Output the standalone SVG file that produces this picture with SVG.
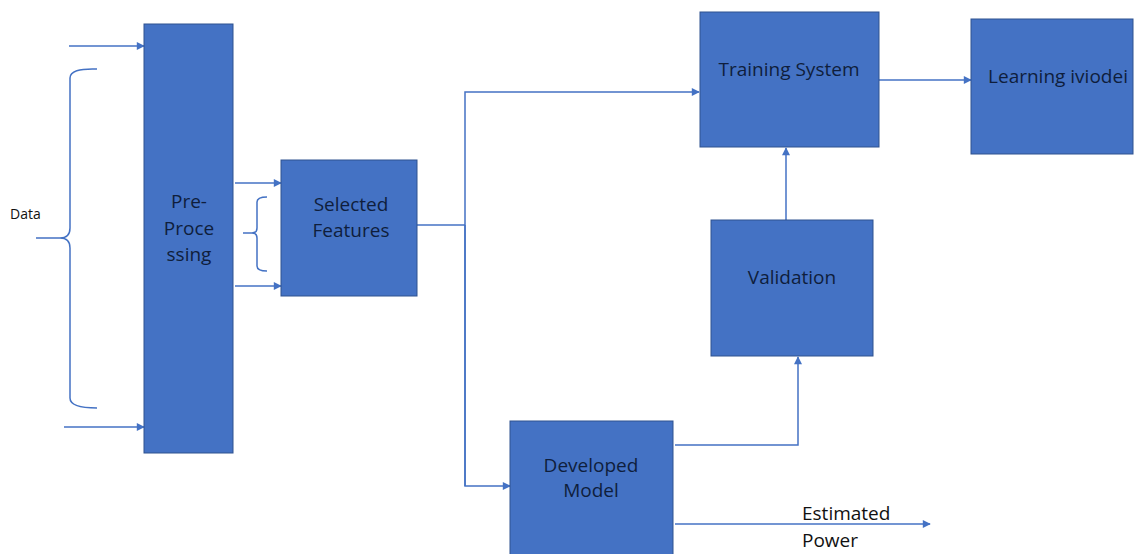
<svg xmlns="http://www.w3.org/2000/svg" width="1138" height="554" viewBox="0 0 1138 554">
<style>
.box{fill:#4472C4;stroke:#2F528F;stroke-width:1}
.lbl{font-family:"Open Sans","Liberation Sans",sans-serif;font-size:19px;fill:#0f1e3c;text-anchor:middle}
.ln{fill:none;stroke:#4472C4;stroke-width:1.5}
.ar{fill:none;stroke:#4472C4;stroke-width:1.5;marker-end:url(#ah)}
.txt{font-family:"Open Sans","Liberation Sans",sans-serif;font-size:19px;fill:#111}
</style>
<defs>
<marker id="ah" viewBox="0 0 10 10" refX="9" refY="5" markerWidth="9" markerHeight="8" markerUnits="userSpaceOnUse" orient="auto">
<path d="M0,0 L10,5 L0,10 z" fill="#4472C4"/>
</marker>
</defs>
<rect width="1138" height="554" fill="#fff"/>
<g id="connectors">
<line class="ar" x1="69" y1="46" x2="144" y2="46"/>
<line class="ar" x1="64" y1="427" x2="144" y2="427"/>
<path class="ln" d="M97,69 Q70,68 70,78 L70,228 Q70,238 60,238 L36,238 M60,238 Q70,238 70,248 L70,398 Q70,408 97,408"/>
<line class="ar" x1="235" y1="183" x2="281" y2="183"/>
<line class="ar" x1="235" y1="286" x2="281" y2="286"/>
<path class="ln" d="M267,197 Q257,197 257,202 L257,228 Q257,233 252,233 L243,233 M252,233 Q257,233 257,238 L257,266 Q257,271 267,271"/>
<path class="ln" d="M417,225 L465,225"/>
<path class="ar" d="M465,486 L465,92 L699,92"/>
<path class="ar" d="M465,225 L465,486 L510,486"/>
<line class="ar" x1="879" y1="80" x2="971" y2="80"/>
<line class="ar" x1="786" y1="220" x2="786" y2="148"/>
<path class="ar" d="M675,445 L798,445 L798,357"/>
<line class="ar" x1="675" y1="524" x2="930" y2="524"/>
</g>
<text class="txt" x="10" y="219" style="font-size:14px">Data</text>
<g id="preprocessing">
<rect class="box" x="144" y="24" width="89" height="429"/>
<text class="lbl" x="189" y="208">Pre-</text>
<text class="lbl" x="189" y="235">Proce</text>
<text class="lbl" x="189" y="261">ssing</text>
</g>
<g id="selected">
<rect class="box" x="281" y="160" width="136" height="136"/>
<text class="lbl" x="351" y="211">Selected</text>
<text class="lbl" x="351" y="237">Features</text>
</g>
<g id="training">
<rect class="box" x="700" y="12" width="179" height="135"/>
<text class="lbl" x="789" y="76">Training System</text>
</g>
<g id="learning">
<rect class="box" x="971" y="19" width="162" height="135"/>
<text class="lbl" x="1058" y="83">Learning iviodei</text>
</g>
<g id="validation">
<rect class="box" x="711" y="220" width="162" height="136"/>
<text class="lbl" x="792" y="284">Validation</text>
</g>
<g id="developed">
<rect class="box" x="510" y="421" width="163" height="140"/>
<text class="lbl" x="591" y="472">Developed</text>
<text class="lbl" x="591" y="497">Model</text>
</g>
<text class="txt" x="802" y="520">Estimated</text>
<text class="txt" x="802" y="547">Power</text>
</svg>
